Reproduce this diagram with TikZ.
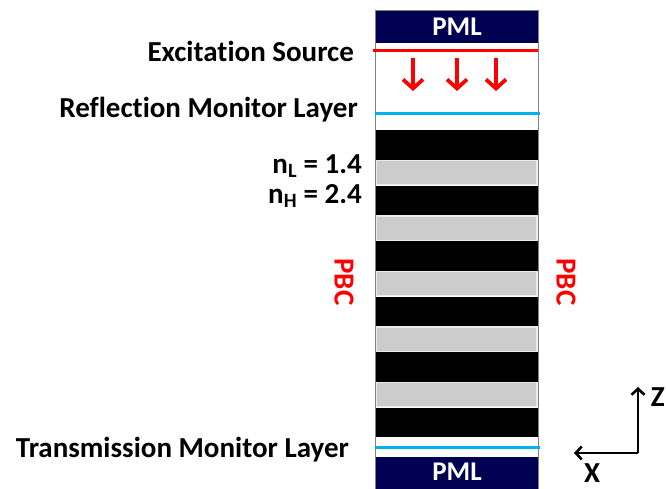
\documentclass[tikz,border=0pt]{standalone}
\usepackage{amsmath}
\usepackage{fontspec}
\setmainfont{Carlito}[Ligatures=NoCommon]
\usetikzlibrary{arrows.meta}

\definecolor{pmlblue}{RGB}{0,0,82}
\definecolor{monblue}{RGB}{0,176,240}
\definecolor{lowgray}{RGB}{204,204,204}

\begin{document}
\begin{tikzpicture}[x=1pt,y=-1pt,
    lbl/.style={font=\fontsize{29}{32}\selectfont\bfseries, inner sep=0pt},
    pmltext/.style={white, font=\fontsize{27}{30}\selectfont\bfseries, inner sep=0pt},
    pml/.style={fill=pmlblue},
    hilayer/.style={fill=black},
    lolayer/.style={fill=lowgray, draw=white!92!black, line width=1.4pt},
    monitor/.style={monblue, line width=3pt},
    srcarrow/.style={red, line width=3.8pt, -{Straight Barb[length=9pt,width=20pt]}},
    axis/.style={line width=2.6pt, -{Straight Barb[length=6pt,width=13pt]}}]

        \useasboundingbox (0,0) rectangle (666,488);

        %%% STACK

        % PML layers
        \fill[pml] (375,10) rectangle (538,43);
        \fill[pml] (375,457) rectangle (538,490);
        \node[pmltext] (pmltop) at (457,27) {PML};
        \node[pmltext] (pmlbot) at (457,472) {PML};

        % Bragg layers
        \foreach \i in {0,...,5}
            \fill[hilayer] (375,130+55.5*\i) rectangle (538,159.5+55.5*\i);
        \foreach \i in {0,...,4}
            \draw[lolayer] (376,160.3+55.5*\i) rectangle (537,184.7+55.5*\i);

        % Outline
        \draw[gray, line width=0.8pt] (375,10) rectangle (538,490);

        % Source and monitors
        \draw[red, line width=3pt] (373,50) -- (538,50);
        \foreach \x in {413,457,496}
            \draw[srcarrow] (\x,58) -- (\x,91);
        \draw[monitor] (375,113) -- (540,113);
        \draw[monitor] (375,447) -- (540,447);

        %%% LABELS

        \node[lbl, anchor=base east] (src) at (354,61.5) {Excitation Source};
        \node[lbl, anchor=base east] (refl) at (358,117) {Reflection Monitor Layer};
        \node[lbl, anchor=base east] (nlow) at (362,173) {n$_{\text{L}}$ = 1.4};
        \node[lbl, anchor=base east] (nhigh) at (362,203) {n$_{\text{H}}$ = 2.4};
        \node[lbl, anchor=base east] (trans) at (349,457) {Transmission Monitor Layer};

        \node[lbl, red, rotate=-90] (pbcl) at (344,282) {PBC};
        \node[lbl, red, rotate=-90] (pbcr) at (566,282) {PBC};

        %%% AXES

        \coordinate (orig) at (638,453);
        \coordinate (ztip) at (638,387);
        \coordinate (xtip) at (574,453);
        \draw[axis] (orig) -- (ztip);
        \draw[axis] (orig) -- (xtip);
        \node[lbl, anchor=base east] (zlab) at (665,406) {Z};
        \node[lbl, anchor=base] (xlab) at (592,482) {X};

\end{tikzpicture}
\end{document}
